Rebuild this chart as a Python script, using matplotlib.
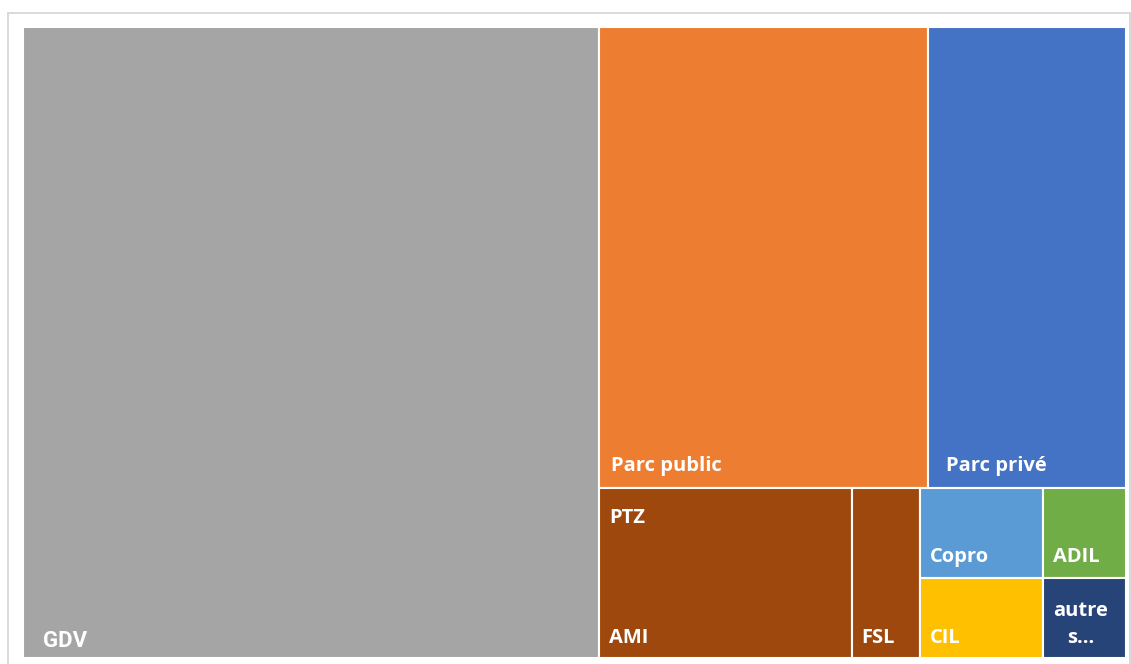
import matplotlib.pyplot as plt
from matplotlib.patches import Rectangle

# budget lines (one cell each) and the group they belong to
names = ['GDV', 'Parc public', 'Parc privé', 'AMI', 'FSL', 'Copro', 'CIL', 'ADIL', 'autre\ns…']
values = [521.3, 217.4, 130.9, 61.7, 16.7, 15.9, 14.1, 10.7, 9.5]
groups = ['GDV', 'Parc public', 'Parc privé', 'PTZ', 'PTZ', 'Copro', 'CIL', 'ADIL', 'autres']
group_colors = {
    'GDV': '#A5A5A5',
    'Parc public': '#ED7D31',
    'Parc privé': '#4472C4',
    'PTZ': '#9E480E',
    'Copro': '#5B9BD5',
    'CIL': '#FFC000',
    'ADIL': '#70AD47',
    'autres': '#264478',
}

# nesting of the slices: 'h' = side by side, 'v' = stacked
layout = ('h', [0, ('v', [('h', [1, 2]),
                          ('h', [('h', [3, 4]),
                                 ('h', [('v', [5, 6]), ('v', [7, 8])])])])])


def total(node):
    if isinstance(node, int):
        return values[node]
    return sum(total(c) for c in node[1])


def place(node, x, y, w, h, out):
    if isinstance(node, int):
        out[node] = (x, y, w, h)
        return
    d, kids = node
    s = total(node)
    for c in kids:
        f = total(c) / s
        if d == 'h':
            place(c, x, y, w * f, h, out)
            x += w * f
        else:
            place(c, x, y, w, h * f, out)
            y += h * f


rects = {}
place(layout, 0.0, 0.0, 1.0, 1.0, rects)

fig = plt.figure(figsize=(11.31, 6.64), dpi=100)
fig.patches.append(Rectangle((0.007, -0.02), 0.992, 1.0, transform=fig.transFigure,
                             fill=False, edgecolor='#D9D9D9', linewidth=1.4))
ax = fig.add_axes([0.0203, 0.009, 0.9753, 0.9503])
ax.set_xlim(0, 1)
ax.set_ylim(1, 0)
ax.axis('off')

font = dict(family=['Open Sans', 'DejaVu Sans'], weight='bold', size=14.5, color='white')

# label padding in points (left, up from the bottom edge)
pads = {
    'GDV': (14.4, 8.0),
    'Parc public': (8.6, 12.2),
    'Parc privé': (13.0, 12.2),
    'Copro': (7.2, 11.5),
    'ADIL': (6.8, 11.5),
}

for i, name in enumerate(names):
    x, y, w, h = rects[i]
    ax.add_patch(Rectangle((x, y), w, h, facecolor=group_colors[groups[i]],
                           edgecolor='white', linewidth=1.5))
    px, py = pads.get(name, (7.0, 11.0))
    style = dict(font)
    if name == 'GDV':
        style.update(family=['Roboto', 'DejaVu Sans'], size=16)
    ax.annotate(name, xy=(x, y + h), xytext=(px, py), textcoords='offset points',
                ha='left', va='baseline', multialignment='center',
                linespacing=1.45, **style)

# group title for PTZ, top left of its block
ptz = [rects[i] for i in range(len(names)) if groups[i] == 'PTZ']
gx = min(r[0] for r in ptz)
gy = min(r[1] for r in ptz)
ax.annotate('PTZ', xy=(gx, gy), xytext=(7.2, -25.0), textcoords='offset points',
            ha='left', va='baseline', **font)

fig.savefig('out.png', dpi=100)
